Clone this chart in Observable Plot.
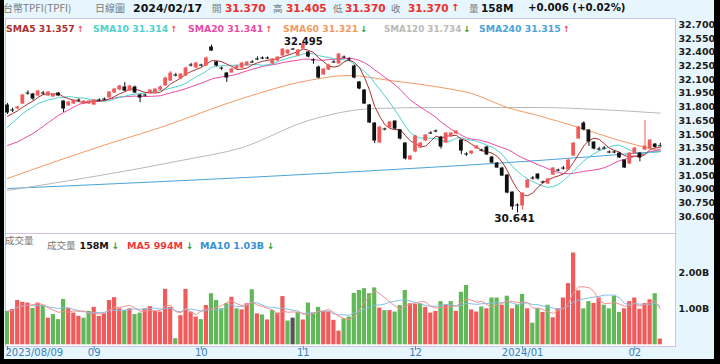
<!DOCTYPE html>
<html><head><meta charset="utf-8">
<script src="https://cdn.jsdelivr.net/npm/d3@7"></script>
<script src="https://cdn.jsdelivr.net/npm/@observablehq/plot@0.6"></script>
<style>
body{margin:0;background:#fff;}
#wrap{position:relative;width:720px;height:364px;background:#e6f6fc;overflow:hidden;font-family:"DejaVu Sans",Verdana,sans-serif;}
.t{position:absolute;white-space:nowrap;line-height:1;}
.b{font-weight:bold;}
.cjk{font-family:"Noto Sans CJK TC","Noto Sans CJK SC",sans-serif;color:#777;}
.plot{position:absolute;left:0;}
.blk{position:absolute;background:#000;}
</style></head>
<body>
<div id="wrap"></div>
<script>
// ---------- data ----------
const open = [
31.818,31.763,31.785,31.839,31.949,31.938,31.927,31.949,31.927,31.916,
31.949,31.861,31.818,31.839,31.872,31.839,31.839,31.828,31.872,31.883,
31.905,31.960,31.993,32.015,31.982,32.015,31.927,31.927,31.949,31.960,
31.993,32.037,32.091,32.146,32.113,32.146,32.256,32.234,32.256,32.256,
32.453,32.289,32.223,32.168,32.179,32.223,32.234,32.256,32.289,32.322,
32.333,32.333,32.278,32.311,32.365,32.387,32.431,32.365,32.442,32.398,
32.311,32.234,32.157,32.212,32.289,32.278,32.343,32.322,32.245,32.070,
31.982,31.818,31.620,31.412,31.555,31.576,31.642,31.544,31.401,31.226,
31.313,31.357,31.434,31.511,31.533,31.467,31.412,31.478,31.511,31.434,
31.281,31.292,31.346,31.324,31.357,31.248,31.182,31.127,31.050,30.864,
30.722,30.722,30.919,31.018,31.061,30.974,30.963,31.061,31.105,31.127,
31.116,31.270,31.456,31.620,31.544,31.412,31.335,31.346,31.303,31.303,
31.292,31.215,31.182,31.292,31.292,31.335,31.346,31.390,31.370];
const close = [
31.741,31.763,31.796,31.927,31.949,31.894,31.971,31.949,31.960,31.938,
31.927,31.785,31.850,31.872,31.872,31.861,31.861,31.872,31.872,31.883,
31.960,31.993,32.026,31.982,32.026,31.960,31.905,31.927,31.982,31.993,
32.015,32.113,32.168,32.146,32.157,32.223,32.256,32.278,32.256,32.333,
32.420,32.256,32.223,32.124,32.212,32.245,32.278,32.289,32.289,32.322,
32.333,32.333,32.322,32.343,32.431,32.420,32.431,32.420,32.486,32.354,
32.311,32.124,32.212,32.256,32.289,32.376,32.343,32.322,32.124,32.004,
31.839,31.632,31.434,31.576,31.555,31.632,31.565,31.456,31.237,31.259,
31.478,31.401,31.489,31.511,31.533,31.368,31.511,31.511,31.533,31.324,
31.281,31.313,31.368,31.324,31.281,31.193,31.138,31.050,30.864,30.711,
30.722,30.853,30.996,31.018,31.018,30.974,31.007,31.127,31.105,31.127,
31.215,31.401,31.576,31.555,31.423,31.346,31.335,31.346,31.303,31.303,
31.248,31.138,31.292,31.346,31.249,31.368,31.434,31.364,31.370];
const high = [
31.84,31.79,31.81,31.94,31.98,31.95,31.98,31.97,31.97,31.95,
31.96,31.87,31.86,31.88,31.89,31.87,31.87,31.88,31.89,31.90,
31.97,32.00,32.04,32.07,32.04,32.03,31.94,31.94,31.99,32.00,
32.03,32.13,32.19,32.17,32.17,32.24,32.28,32.29,32.27,32.35,
32.48,32.30,32.24,32.18,32.23,32.26,32.29,32.30,32.31,32.35,
32.35,32.35,32.33,32.35,32.44,32.43,32.44,32.43,32.495,32.41,
32.33,32.25,32.22,32.27,32.31,32.39,32.36,32.34,32.26,32.08,
31.99,31.83,31.63,31.59,31.57,31.64,31.65,31.55,31.41,31.27,
31.49,31.41,31.50,31.53,31.55,31.48,31.52,31.52,31.54,31.44,
31.30,31.32,31.38,31.34,31.37,31.26,31.19,31.14,31.06,30.87,
30.74,30.86,31.01,31.04,31.07,30.99,31.02,31.14,31.12,31.15,
31.23,31.41,31.59,31.64,31.55,31.42,31.36,31.37,31.32,31.32,
31.30,31.22,31.30,31.36,31.30,31.653,31.44,31.40,31.405];
const low = [
31.72,31.74,31.77,31.83,31.93,31.87,31.92,31.93,31.92,31.91,
31.92,31.74,31.81,31.83,31.855,31.83,31.83,31.82,31.86,31.87,
31.90,31.95,31.98,31.97,31.97,31.95,31.85,31.91,31.94,31.95,
31.98,32.03,32.08,32.13,32.10,32.14,32.24,32.22,32.24,32.25,
32.41,32.24,32.20,32.07,32.17,32.21,32.22,32.25,32.28,32.31,
32.32,32.32,32.27,32.30,32.36,32.38,32.42,32.36,32.43,32.34,
32.27,32.11,32.15,32.20,32.28,32.27,32.33,32.30,32.11,31.99,
31.83,31.62,31.40,31.40,31.54,31.57,31.55,31.44,31.22,31.22,
31.30,31.35,31.42,31.50,31.52,31.34,31.40,31.47,31.50,31.28,
31.26,31.28,31.34,31.31,31.27,31.18,31.13,31.04,30.85,30.67,
30.641,30.67,30.91,31.00,31.00,30.96,30.95,31.05,31.09,31.11,
31.11,31.26,31.45,31.54,31.37,31.33,31.32,31.33,31.29,31.29,
31.24,31.13,31.17,31.28,31.20,31.33,31.34,31.35,31.370];
// volume in billions
const volume = [
0.93,0.98,1.23,1.18,1.16,1.01,1.16,1.07,0.74,0.84,
0.70,1.26,1.02,0.88,0.79,0.74,0.93,1.04,0.79,0.86,
1.23,1.31,1.00,0.95,1.00,0.84,0.88,1.00,1.06,0.93,
0.91,1.54,1.04,0.17,0.81,1.54,0.91,0.77,0.70,1.09,
1.42,1.23,1.00,1.14,1.32,1.00,0.97,1.14,1.53,0.86,
0.83,0.69,0.95,0.88,1.34,0.66,0.74,0.89,0.69,1.16,
0.88,1.04,0.93,0.93,0.68,0.38,0.72,0.77,1.43,1.51,
1.56,1.42,1.58,1.02,0.95,0.95,0.91,1.09,1.51,1.14,
1.12,1.14,1.04,0.88,0.93,1.20,1.11,1.20,0.93,1.46,
1.65,0.97,0.91,1.05,1.00,1.30,1.30,1.10,1.35,1.00,
1.10,1.40,1.00,0.60,1.00,0.90,1.10,0.75,1.00,1.30,
1.70,2.55,1.50,1.00,1.20,1.15,1.30,1.10,1.00,1.35,
0.90,1.00,1.20,1.30,0.99,1.15,1.25,1.42,0.16];
// u = up (red), d = down (green), g = grey
const volDir = ("duuuududud"+"dduuudduuu"+"uuududduuu"+"uuuduuuudu"+"ddddud"+
  "uudu"+"duduudgdud"+"dduuuudddd"+"dddududddu"+"uduuududud"+"duu"+
  "duddudu"+"ddudduduuu"+"uuudduuddd"+"duuuuuudu").split("");

// early moving-average readings (before a full window exists)
const sma5Early  = [31.70,31.73,31.76,31.80];
const sma10Early = [31.58,31.63,31.68,31.73,31.77,31.80,31.84,31.86,31.88];
const sma20Early = [31.38,31.40,31.42,31.45,31.48,31.51,31.55,31.59,31.63,31.67,
                    31.71,31.74,31.77,31.80,31.83,31.845,31.855,31.86,31.865];
// long moving averages
const sma60Idx = [0,10,20,30,46,59,67,75,85,91,98,104,112,120,128];
const sma60Val = [31.018,31.215,31.402,31.577,31.895,32.092,32.147,32.092,32.015,31.949,31.796,31.708,31.577,31.434,31.321];
const sma120Idx = [0,34,46,59,72,85,104,116,128];
const sma120Val = [30.886,31.215,31.357,31.653,31.785,31.796,31.796,31.774,31.734];
const sma240Idx = [0,65,104,128];
const sma240Val = [30.908,31.083,31.215,31.315];

const priceTicks = [30.6,30.75,30.9,31.05,31.2,31.35,31.5,31.65,31.8,31.95,32.1,32.25,32.4,32.55,32.7];
const volTicks = [1,2];
const monthIdx = [0,17,38,58,80,101,123];
const monthLabels = ["2023/08/09","09","10","11","12","2024/01","02"];

const legendNames  = ["SMA5","SMA10","SMA20","SMA60","SMA120","SMA240"];
const legendValues = ["31.357","31.314","31.341","31.321","31.734","31.315"];
const legendDirs   = ["up","up","up","down","down","up"];
const volLegendNames = ["成交量","MA5","MA10"];
const volLegendValues = ["158M","994M","1.03B"];
const volLegendDirs = ["down","down","down"];

// ---------- styles ----------
const RED = "#f05a5a", BLK = "#111", GRN = "#62b758", GREY = "#555";
const maColors = ["#a83232","#4fd0d0","#e84aa6","#f39a62","#b9b9b9","#4aa3dc"];
const legendX = [6,93,188,283,384,479];
const legendSize = [9.3,9.3,9.3,9.3,8.8,9.3];
const volLegColors = ["#111","#f03a3a","#3a8fd0"];
const volLegX = [47,127,200];

const wrap = document.getElementById("wrap");
function addText(txt, x, y, cls, color, size){
  const s = document.createElement("div");
  s.className = "t " + cls; s.textContent = txt;
  s.style.left = x+"px"; s.style.top = y+"px";
  if(color) s.style.color = color;
  if(size) s.style.fontSize = size+"px";
  wrap.appendChild(s); return s;
}
function addItem(parts, x, y){
  const s = document.createElement("div");
  s.className = "t"; s.style.left = x+"px"; s.style.top = y+"px";
  for(const [txt, color, bold, size, font, ml] of parts){
    const p = document.createElement("span");
    p.textContent = txt; p.style.color = color;
    p.style.fontWeight = bold ? "bold" : "normal";
    p.style.fontSize = size+"px";
    if(font) p.style.fontFamily = font;
    if(ml) p.style.marginLeft = ml+"px";
    s.appendChild(p);
  }
  wrap.appendChild(s);
}
const ARROW = {up:["↑",RED], down:["↓","#2a9a2a"]};

// ---------- derived ----------
const N = close.length;
const rows = d3.range(N).map(i => ({i, o: open[i], h: high[i], l: low[i], c: close[i], up: close[i] > open[i]}));
function sma(arr, w, early){ return arr.map((_, i) => i < w-1 ? early[i] : d3.mean(arr.slice(i-w+1, i+1))); }
const sma5 = sma(close,5,sma5Early), sma10 = sma(close,10,sma10Early), sma20 = sma(close,20,sma20Early);
const vma = (w) => volume.map((_, i) => d3.mean(volume.slice(Math.max(0,i-w+1), i+1)));
const vma5 = vma(5), vma10 = vma(10);
const idx = d3.range(N);
const xDomain = [-0.392, 130.98];
const maxRow = rows.reduce((a,b)=> b.h > a.h ? b : a);
const minRow = rows.reduce((a,b)=> b.l < a.l ? b : a);

// ---------- price plot ----------
const price = Plot.plot({
  width: 720, height: 233, marginTop: 18, marginBottom: 0, marginLeft: 5, marginRight: 45,
  style: {background: "transparent", fontFamily: "DejaVu Sans, Verdana, sans-serif", overflow: "visible"},
  x: {domain: xDomain, axis: null},
  y: {domain: [30.4155, 32.771], axis: null},
  marks: [
    Plot.frame({fill: "white", stroke: "#cfc2e8"}),
    Plot.line(sma240Idx, {x: d => d, y: (d,i) => sma240Val[i], stroke: maColors[5], strokeWidth: 1, curve: "monotone-x"}),
    Plot.line(sma120Idx, {x: d => d, y: (d,i) => sma120Val[i], stroke: maColors[4], strokeWidth: 1, curve: "monotone-x"}),
    Plot.line(sma60Idx, {x: d => d, y: (d,i) => sma60Val[i], stroke: maColors[3], strokeWidth: 1, curve: "monotone-x"}),
    Plot.line(idx, {x: d => d, y: d => sma20[d], stroke: maColors[2], strokeWidth: 1}),
    Plot.line(idx, {x: d => d, y: d => sma10[d], stroke: maColors[1], strokeWidth: 1}),
    Plot.line(idx, {x: d => d, y: d => sma5[d], stroke: maColors[0], strokeWidth: 1}),
    Plot.ruleX(rows, {x: "i", y1: "l", y2: "h", stroke: d => d.up ? RED : BLK, strokeWidth: 1}),
    Plot.rect(rows, {x1: d => d.i - 0.37, x2: d => d.i + 0.37, y1: "o", y2: "c", fill: d => d.up ? RED : BLK, insetTop: -0.5, insetBottom: -0.5}),
    Plot.text([maxRow], {x: "i", y: "h", text: d => d.h.toFixed(3), lineAnchor: "bottom", dy: 1, fontWeight: "bold", fontSize: 10, fill: "#111"}),
    Plot.text([minRow], {x: "i", y: "l", text: d => d.l.toFixed(3), lineAnchor: "top", dy: 2, dx: -3, fontWeight: "bold", fontSize: 10.5, fill: "#111"}),
    Plot.axisY(priceTicks, {anchor: "right", label: null, tickSize: 0, tickPadding: 3, tickFormat: d => d.toFixed(3), fontWeight: "bold", fontSize: 9.5, fill: "#1a1a1a"})
  ]
});
price.classList.add("plot"); price.style.top = "0px";
wrap.appendChild(price);

// ---------- volume plot ----------
const vrows = d3.range(N).map(i => ({i, v: volume[i], d: volDir[i]}));
const vol = Plot.plot({
  width: 720, height: 131, marginTop: 0, marginBottom: 18, marginLeft: 5, marginRight: 45,
  style: {background: "transparent", fontFamily: "DejaVu Sans, Verdana, sans-serif", overflow: "visible"},
  x: {domain: xDomain, axis: null},
  y: {domain: [-0.047, 3.092], axis: null},
  marks: [
    Plot.frame({fill: "white", stroke: "#cfc2e8"}),
    Plot.rect(vrows, {x1: d => d.i - 0.41, x2: d => d.i + 0.41, y1: 0, y2: "v", fill: d => d.d === "u" ? RED : d.d === "g" ? GREY : GRN}),
    Plot.line(idx, {x: d => d, y: d => vma10[d], stroke: "#86bde6", strokeWidth: 1}),
    Plot.line(idx, {x: d => d, y: d => vma5[d], stroke: "#f29090", strokeWidth: 1}),
    Plot.axisY(volTicks, {anchor: "right", label: null, tickSize: 0, tickPadding: 3, tickFormat: d => d.toFixed(2) + "B", fontWeight: "bold", fontSize: 9.5, fill: "#1a1a1a"}),
    Plot.axisX(monthIdx, {anchor: "bottom", label: null, tickSize: 4, tickFormat: () => "", stroke: "#4a8ccc"}),
    Plot.text([0], {x: d => monthIdx[d], text: d => monthLabels[d], frameAnchor: "bottom", dy: 9, dx: -2, textAnchor: "start", fontSize: 10, fill: "#3a7fc0"}),
    Plot.text(d3.range(1, monthIdx.length), {x: d => monthIdx[d], text: d => monthLabels[d], frameAnchor: "bottom", dy: 9, fontSize: 10, fill: "#3a7fc0", fontWeight: d => monthLabels[d].length > 2 ? "bold" : "normal"})
  ]
});
vol.classList.add("plot"); vol.style.top = "233px";
wrap.appendChild(vol);

// ---------- header ----------
const CJK = '"Noto Sans CJK TC","Noto Sans CJK SC",sans-serif';
const HR = "#ee2d2d";
addText("台幣TPFI(TPFI)", 3, 3, "cjk", "#7a7a7a", 10);
addText("日線圖", 95, 3, "cjk", "#7a7a7a", 10);
addText("2024/02/17", 133, 3, "b", "#111", 11);
const hdr = [["開",212,"31.370",225],["高",273,"31.405",286],["低",333,"31.370",345],["收",391,"31.370",408]];
for(const [k,kx,v,vx] of hdr){ addText(k, kx, 3.5, "cjk", "#7a7a7a", 9.5); addText(v, vx, 3, "b", HR, 10.5); }
addText("↑", 451, 3, "b", HR, 10);
addText("量", 469, 3.5, "cjk", "#7a7a7a", 9.5);
addText("158M", 481, 3, "b", "#111", 10.5);
addText("+0.006 (+0.02%)", 528, 3, "b", "#111", 10.2);

// price legend
legendNames.forEach((n, k) => {
  const a = ARROW[legendDirs[k]];
  addItem([[n + " " + legendValues[k], maColors[k], true, legendSize[k]], [a[0], a[1], true, 8.5, null, 2]], legendX[k], 19);
});
// volume legend
addText("成交量", 5, 235.5, "cjk", "#777", 9.5);
volLegendNames.forEach((n, k) => {
  const a = ARROW[volLegendDirs[k]];
  const parts = k === 0
    ? [[n, "#777", false, 9.5, CJK], [volLegendValues[k], volLegColors[k], true, 9.5, null, 4], [a[0], a[1], true, 9, null, 3]]
    : [[n + " " + volLegendValues[k], volLegColors[k], true, 9.5], [a[0], a[1], true, 9, null, 3]];
  addItem(parts, volLegX[k], 235.5);
});

// frame borders
for(const [l,t,w,h] of [[0,0,4,364],[714,0,6,364],[0,359,720,5]]){
  const d = document.createElement("div"); d.className = "blk";
  d.style.left=l+"px"; d.style.top=t+"px"; d.style.width=w+"px"; d.style.height=h+"px";
  wrap.appendChild(d);
}
</script>
</body></html>
